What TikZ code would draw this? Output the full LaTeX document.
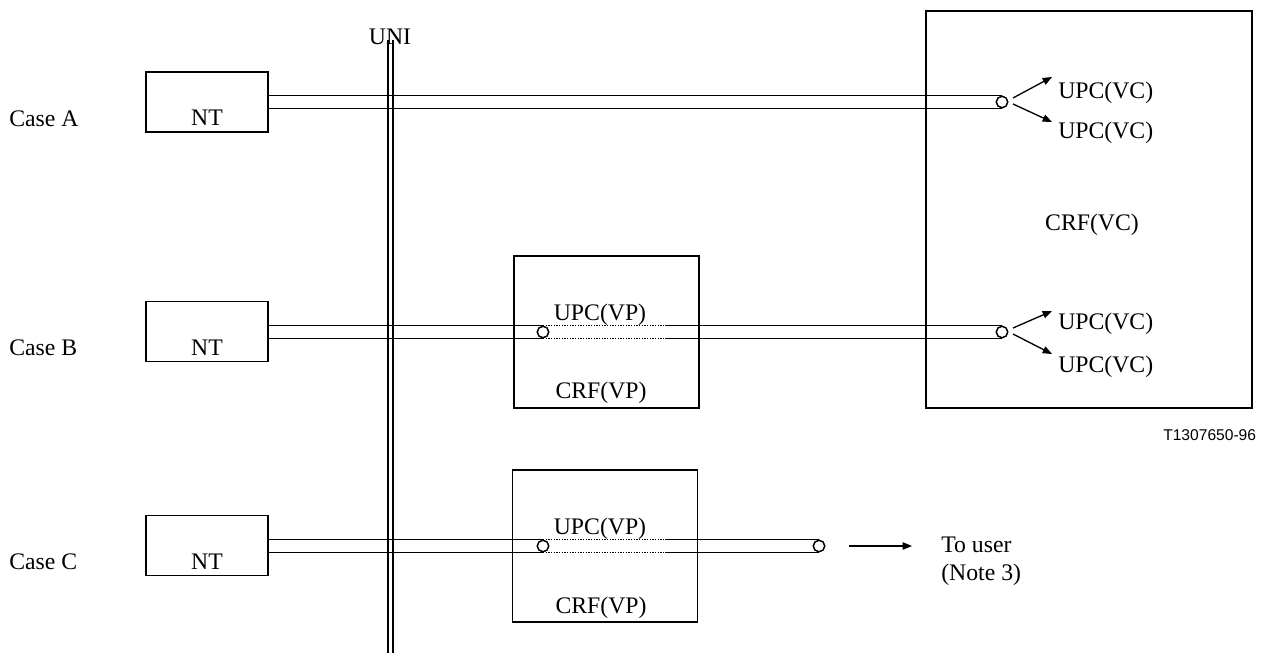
\documentclass[tikz,border=0pt]{standalone}
\usepackage{fontspec}
\setmainfont{Liberation Serif}
\newfontfamily\figsans{Liberation Sans}
\usetikzlibrary{arrows.meta}

\tikzset{
  box/.style={draw, line width=1pt, inner sep=0pt},
  ntbox/.style={box, minimum width=91.5pt, minimum height=45pt},
  vpbox/.style={box, minimum width=138.75pt, minimum height=114pt},
  port/.style={draw, circle, fill=white, line width=1pt, minimum size=8.5pt, inner sep=0pt},
  wire/.style={line width=1pt},
  vpwire/.style={line width=1pt, dash pattern={on 1pt off 1pt}},
  arr/.style={line width=1pt, -{Triangle[length=7pt,width=5.5pt]}},
  txt/.style={inner sep=0.75pt, font=\fontsize{17.8}{21}\selectfont},
  reftxt/.style={inner sep=0.75pt, font=\figsans\fontsize{11.7}{14}\selectfont},
}

\begin{document}
\begin{tikzpicture}[x=0.75pt,y=0.75pt,yscale=-1,xscale=1]
\useasboundingbox (0,0) rectangle (1262,653);

%Shape: Rectangle (CRF VC)
    \node[box, minimum width=244.5pt, minimum height=297.75pt] (crfVC) at (1089,209.5) {};
%Shape: Rectangle (CRF VP)
    \node[vpbox] (crfVPb) at (606.5,332) {};
    \node[vpbox] (crfVPc) at (605,546) {};
%Shape: Rectangle (NT)
    \node[ntbox] (ntA) at (207,102) {};
    \node[ntbox] (ntB) at (207,331.5) {};
    \node[ntbox] (ntC) at (207,545.5) {};

%Straight Lines (UNI)
    \draw[wire] (388,40) -- (388,653);
    \draw[wire] (393,40) -- (393,653);

%Shape: Circle
    \node[port] (cA) at (1002,102) {};
    \node[port] (cB) at (1002,332) {};
    \node[port] (vB) at (543,332) {};
    \node[port] (vC) at (543,546) {};
    \node[port] (cC) at (819,546) {};
    \coordinate (dB) at (665,332);
    \coordinate (dC) at (665,546);

%Straight Lines (Case A)
    \draw[wire] (ntA.east |- cA.north) -- (cA.north);
    \draw[wire] (ntA.east |- cA.south) -- (cA.south);
%Straight Lines (Case B)
    \draw[wire] (ntB.east |- vB.north) -- (vB.north);
    \draw[wire] (ntB.east |- vB.south) -- (vB.south);
    \draw[vpwire] (vB.north) -- (vB.north -| dB);
    \draw[vpwire] (vB.south) -- (vB.south -| dB);
    \draw[wire] (vB.north -| dB) -- (cB.north);
    \draw[wire] (vB.south -| dB) -- (cB.south);
%Straight Lines (Case C)
    \draw[wire] (ntC.east |- vC.north) -- (vC.north);
    \draw[wire] (ntC.east |- vC.south) -- (vC.south);
    \draw[vpwire] (vC.north) -- (vC.north -| dC);
    \draw[vpwire] (vC.south) -- (vC.south -| dC);
    \draw[wire] (vC.north -| dC) -- (cC.north);
    \draw[wire] (vC.south -| dC) -- (cC.south);

%Shape: Circle (redrawn on top of the lines)
    \foreach \p in {cA,cB,vB,vC,cC}
      \node[port] at (\p) {};

%Arrows
    \coordinate (tipA1) at (1052,77);
    \coordinate (tipA2) at (1052,122);
    \coordinate (tipB1) at (1052,311);
    \coordinate (tipB2) at (1052,354);
    \draw[arr] ([shift={(11,-4)}]cA.center) -- (tipA1);
    \draw[arr] ([shift={(11,2)}]cA.center) -- (tipA2);
    \draw[arr] ([shift={(11,-4)}]cB.center) -- (tipB1);
    \draw[arr] ([shift={(11,2)}]cB.center) -- (tipB2);
    \coordinate (userS) at (849,546);
    \coordinate (userT) at (912,546);
    \draw[arr] (userS) -- (userT);

% Text Node
    \node[txt] (uni) at (390,37) {UNI};
    \node[txt, anchor=west] (caseA) at (8,119) {Case A};
    \node[txt, anchor=west] (caseB) at (8,348) {Case B};
    \node[txt, anchor=west] (caseC) at (8,562) {Case C};
    \node[txt] (ntAtxt) at (207,118) {NT};
    \node[txt] (ntBtxt) at (207,348) {NT};
    \node[txt] (ntCtxt) at (207,562) {NT};
    \node[txt, anchor=west] (vcA1) at (1057,93) {UPC(VC)};
    \node[txt, anchor=west] (vcA2) at (1057,133) {UPC(VC)};
    \node[txt, anchor=west] (vcB1) at (1057,324) {UPC(VC)};
    \node[txt, anchor=west] (vcB2) at (1057,367) {UPC(VC)};
    \node[txt] (crfVCtxt) at (1092,225) {CRF(VC)};
    \node[txt] (upcB) at (600,315) {UPC(VP)};
    \node[txt] (crfB) at (601,393) {CRF(VP)};
    \node[txt] (upcC) at (600,529) {UPC(VP)};
    \node[txt] (crfC) at (601,608) {CRF(VP)};
    \node[txt, anchor=west] (toUser) at (940,545) {To user};
    \node[txt, anchor=west] (note3) at (940,575) {(Note 3)};
    \node[reftxt, anchor=west] (ref) at (1162,435) {T1307650-96};

\end{tikzpicture}
\end{document}
